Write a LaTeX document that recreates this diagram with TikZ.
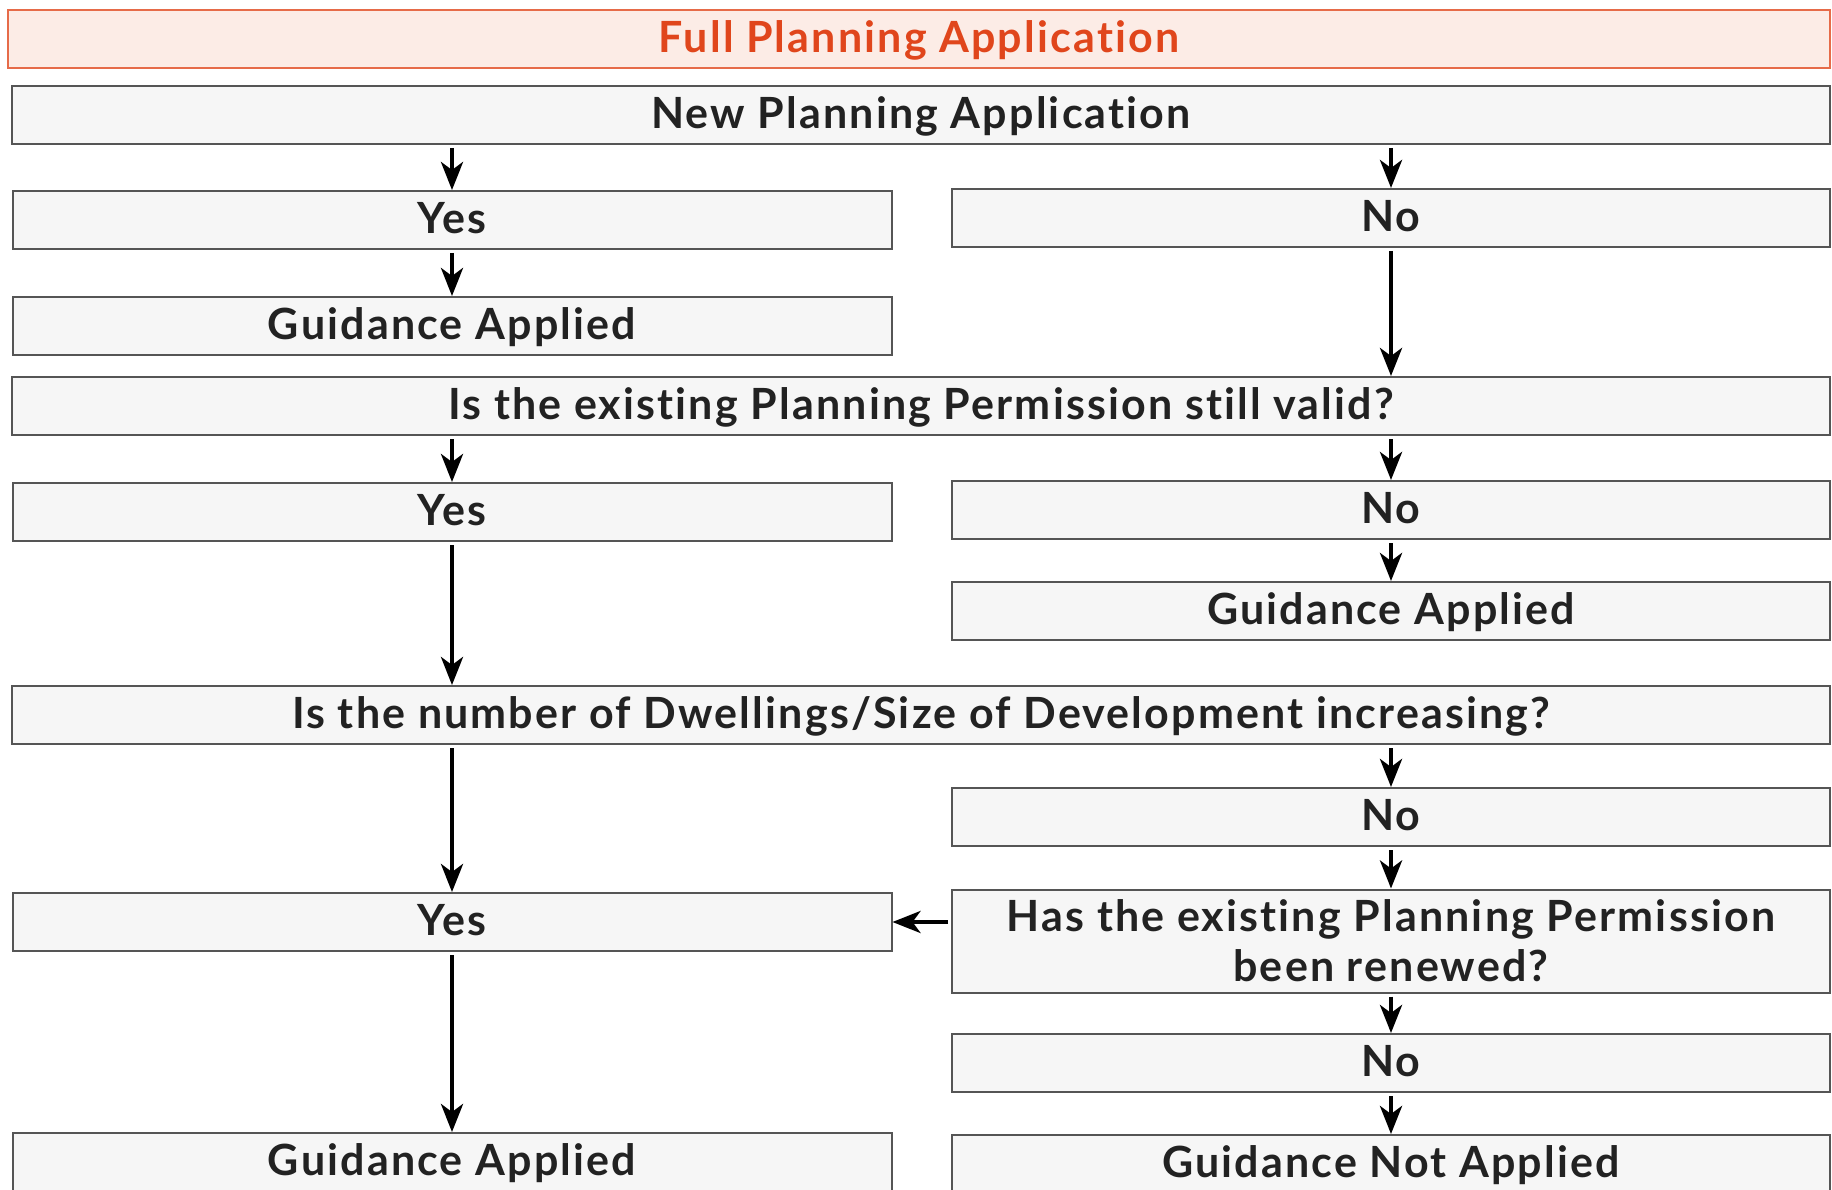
\documentclass[tikz,border=0pt]{standalone}
\usepackage{fontspec}
\setmainfont{Lato}
\newfontfamily\boxfont[LetterSpace=5, Ligatures=NoCommon]{Lato}
\usetikzlibrary{arrows.meta}

\definecolor{TitleRed}{RGB}{224, 70, 28}
\definecolor{TitleFill}{RGB}{252, 236, 230}
\definecolor{BoxFill}{RGB}{246, 246, 246}
\definecolor{BoxLine}{RGB}{85, 85, 85}
\definecolor{TextDark}{RGB}{34, 34, 34}

\begin{document}
\begin{tikzpicture}[x=1pt, y=-1pt,
        box/.style={draw=BoxLine, line width=2pt, fill=BoxFill, text=TextDark,
                     inner sep=0pt, minimum height=58pt, align=center,
                     font=\boxfont\fontsize{43}{50}\selectfont\bfseries},
        onerow/.style={box, text height=36pt, text depth=9pt},
        wide/.style={onerow, minimum width=1818pt},
        lbox/.style={onerow, minimum width=879pt},
        rbox/.style={onerow, minimum width=878pt},
        title/.style={onerow, draw=TitleRed!80, fill=TitleFill, text=TitleRed,
                     minimum width=1822pt},
        arrow/.style={-{Stealth[length=28pt, width=22pt, inset=8pt]},
                     line width=4.5pt, shorten <=3pt}
    ]
        \useasboundingbox (0,0) rectangle (1832,1190);

        \node[title] (full) at (919,39) {Full Planning Application};
        \node[wide] (newapp) at (921,115) {New Planning Application};
        \node[lbox] (yes1) at (452,220) {Yes};
        \node[rbox] (no1) at (1391,218) {No};
        \node[lbox] (ga1) at (452,326) {Guidance Applied};
        \node[wide] (valid) at (921,406) {Is the existing Planning Permission still valid?};
        \node[lbox] (yes2) at (452,512) {Yes};
        \node[rbox] (no2) at (1391,510) {No};
        \node[rbox] (ga2) at (1391,611) {Guidance Applied};
        \node[wide] (dwell) at (921,715) {Is the number of Dwellings/Size of Development increasing?};
        \node[rbox] (no3) at (1391,817) {No};
        \node[lbox] (yes3) at (452,922) {Yes};
        \node[box, minimum width=878pt, minimum height=103pt] (renew) at (1391,941)
            {Has the existing Planning Permission\\been renewed?};
        \node[rbox] (no4) at (1391,1063) {No};
        \node[lbox] (ga3) at (452,1162) {Guidance Applied};
        \node[rbox] (gna) at (1391,1164) {Guidance Not Applied};

        \draw[arrow] (newapp.south -| yes1.north) -- (yes1.north);
        \draw[arrow] (newapp.south -| no1.north) -- (no1.north);
        \draw[arrow] (yes1.south) -- (ga1.north);
        \draw[arrow] (no1.south) -- (no1.south |- valid.north);
        \draw[arrow] (valid.south -| yes2.north) -- (yes2.north);
        \draw[arrow] (valid.south -| no2.north) -- (no2.north);
        \draw[arrow] (no2.south) -- (ga2.north);
        \draw[arrow] (yes2.south) -- (yes2.south |- dwell.north);
        \draw[arrow] (dwell.south -| no3.north) -- (no3.north);
        \draw[arrow] (dwell.south -| yes3.north) -- (yes3.north);
        \draw[arrow] (no3.south) -- (renew.north);
        \draw[arrow] (renew.west |- yes3.east) -- (yes3.east);
        \draw[arrow] (renew.south) -- (no4.north);
        \draw[arrow] (no4.south) -- (gna.north);
        \draw[arrow] (yes3.south) -- (ga3.north);
    \end{tikzpicture}
\end{document}
